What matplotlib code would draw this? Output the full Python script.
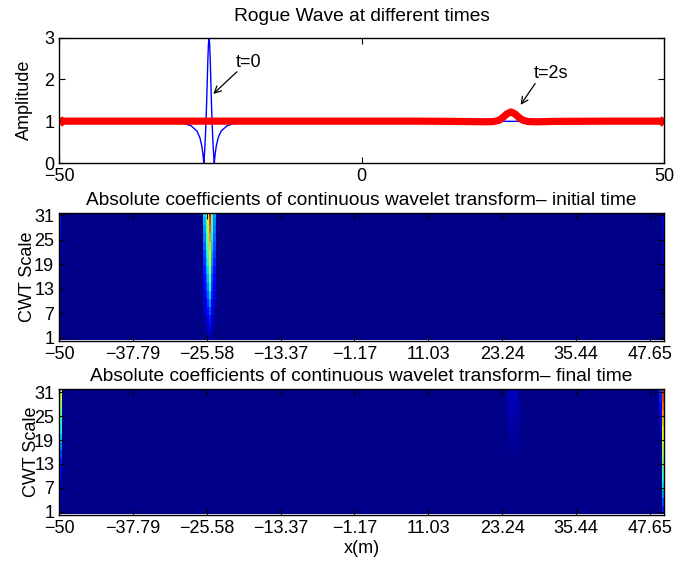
import numpy as np
import matplotlib
matplotlib.use('Agg')
import matplotlib.pyplot as plt

plt.rcParams['font.family'] = ['Liberation Sans', 'DejaVu Sans']
plt.rcParams['font.size'] = 13

# ---- top panel: wave profiles ----
blue_x = [-50, -35.2, -31.2, -29.2, -28.2, -27.2, -26.7, -26.4, -26.2, -26.1,
          -26.07, -26.0, -25.9, -25.8, -25.7, -25.6, -25.5, -25.4, -25.3, -25.2,
          -25.1, -25.0, -24.9, -24.8, -24.7, -24.6, -24.5, -24.4, -24.33, -24.3,
          -24.2, -24.0, -23.7, -23.2, -22.2, -21.2, -19.2, -15.2, 50]
blue_y = [1.0, 0.99, 0.972, 0.938, 0.892, 0.765, 0.6, 0.408, 0.2, 0.057,
          0.0, 0.124, 0.351, 0.639, 1.0, 1.439, 1.94, 2.448, 2.846, 3.0,
          2.846, 2.448, 1.94, 1.439, 1.0, 0.639, 0.351, 0.124, 0.0, 0.057,
          0.2, 0.408, 0.6, 0.765, 0.892, 0.938, 0.972, 0.99, 1.0]

red_x = [-50, -30, -10, 10, 15, 18, 20.5, 21.8, 22.7, 23.4, 24.0, 24.7,
         25.4, 26.0, 26.7, 27.6, 29.0, 32, 40, 50]
red_y = [1.0, 1.0, 1.0, 1.0, 0.995, 0.99, 0.985, 0.99, 1.02, 1.09, 1.17, 1.22,
         1.17, 1.09, 1.02, 0.99, 0.985, 0.995, 1.0, 1.0]

# ---- CWT panels ----
scale_edges = [0.5, 2.5, 4.5, 6.5, 8.5, 10.5, 12.5, 14.5, 16.5,
               18.5, 20.5, 22.5, 24.5, 26.5, 28.5, 30.5, 32.5]
scale_ticks = [1, 7, 13, 19, 25, 31]
x_ticks = [-50, -37.79, -25.58, -13.37, -1.17, 11.03, 23.24, 35.44, 47.65]
x_tick_labels = ['\u221250', '\u221237.79', '\u221225.58', '\u221213.37', '\u22121.17',
                 '11.03', '23.24', '35.44', '47.65']

# initial time: column edges and per-column values (scale 1 -> 32)
cwt0_x_edges = [-50, -49.6, -26.2, -25.75, -25.5, -25.2, -24.85, -24.5, -24.1, 49.6, 50]
cwt0_left = [0.01, 0.01, 0.01, 0.01, 0.01, 0.01, 0.01, 0.01, 0.02, 0.04,
             0.06, 0.08, 0.10, 0.12, 0.15, 0.18]
cwt0_bg = [0.01] * 16
cwt0_s1 = [0.01, 0.02, 0.03, 0.05, 0.07, 0.09, 0.11, 0.13, 0.15, 0.17,
           0.19, 0.22, 0.25, 0.28, 0.31, 0.34]
cwt0_s2 = [0.02, 0.04, 0.07, 0.10, 0.13, 0.16, 0.20, 0.24, 0.28, 0.32,
           0.35, 0.38, 0.41, 0.44, 0.47, 0.50]
cwt0_s3 = [0.03, 0.06, 0.10, 0.14, 0.18, 0.22, 0.26, 0.30, 0.34, 0.38,
           0.42, 0.46, 0.50, 0.54, 0.58, 0.62]
cwt0_s4 = [0.05, 0.10, 0.15, 0.20, 0.27, 0.33, 0.40, 0.47, 0.53, 0.60,
           0.65, 0.70, 0.76, 0.82, 0.86, 0.90]
cwt0_s5 = [0.02, 0.04, 0.06, 0.09, 0.12, 0.15, 0.18, 0.21, 0.24, 0.27,
           0.30, 0.33, 0.36, 0.39, 0.42, 0.45]
cwt0_s6 = [0.01, 0.02, 0.03, 0.04, 0.06, 0.08, 0.10, 0.12, 0.14, 0.16,
           0.18, 0.20, 0.22, 0.24, 0.26, 0.28]
cwt0_right = [0.01, 0.01, 0.01, 0.01, 0.01, 0.01, 0.02, 0.03, 0.04, 0.05,
              0.06, 0.07, 0.08, 0.09, 0.10, 0.11]

# final time
cwt1_x_edges = [-50, -49.5, 24.1, 26.1, 49.1, 49.7, 50]
cwt1_left = [0.02, 0.03, 0.04, 0.05, 0.07, 0.10, 0.15, 0.20, 0.26, 0.32,
             0.37, 0.42, 0.47, 0.52, 0.57, 0.62]
cwt1_bg = [0.01] * 16
cwt1_mid = [0.01, 0.01, 0.01, 0.01, 0.01, 0.01, 0.01, 0.015, 0.02, 0.025,
            0.03, 0.035, 0.04, 0.045, 0.05, 0.05]
cwt1_near_right = [0.01, 0.01, 0.01, 0.01, 0.01, 0.01, 0.01, 0.01, 0.01, 0.02,
                   0.04, 0.06, 0.09, 0.12, 0.15, 0.18]
cwt1_right = [0.15, 0.20, 0.28, 0.35, 0.40, 0.45, 0.50, 0.55, 0.60, 0.62,
              0.65, 0.70, 0.75, 0.80, 0.85, 0.88]

cwt0 = np.array([cwt0_left, cwt0_bg, cwt0_s1, cwt0_s2, cwt0_s3, cwt0_s4,
                 cwt0_s5, cwt0_s6, cwt0_bg, cwt0_right]).T
cwt1 = np.array([cwt1_left, cwt1_bg, cwt1_mid, cwt1_bg, cwt1_near_right,
                 cwt1_right]).T

TITLE_SIZE = 13.8


def style_axes(ax):
    ax.tick_params(direction='in', top=True, right=True, length=4, width=0.8)
    for sp in ax.spines.values():
        sp.set_linewidth(1.0)


fig = plt.figure(figsize=(6.92, 5.62), dpi=100)
W, H = 692.0, 562.0

ax1 = fig.add_axes([59 / W, (H - 163) / H, 605 / W, 125.5 / H])
ax1.plot(blue_x, blue_y, color='blue', lw=1.0)
ax1.plot(red_x, red_y, color='red', lw=5.2, solid_capstyle='butt',
         marker='x', ms=6, mew=2.5, markevery=[0, len(red_x) - 1])
ax1.set_xlim(-50, 50)
ax1.set_ylim(0, 3)
ax1.set_xticks([-50, 0, 50])
ax1.set_xticklabels(['\u221250', '0', '50'])
ax1.set_yticks([0, 1, 2, 3])
ax1.set_ylabel('Amplitude')
ax1.yaxis.set_label_coords(-0.043, 0.5)
ax1.set_title('Rogue Wave at different times', pad=12, fontsize=TITLE_SIZE)
arrow = dict(arrowstyle='->', color='black', lw=0.9, mutation_scale=12,
             shrinkA=0, shrinkB=0)
ax1.annotate('', xy=(-24.5, 1.65), xytext=(-20.6, 2.18), arrowprops=arrow)
ax1.text(-20.8, 2.2, 't=0', ha='left', va='bottom')
ax1.annotate('', xy=(26.3, 1.39), xytext=(28.7, 1.9), arrowprops=arrow)
ax1.text(28.4, 1.93, 't=2s', ha='left', va='bottom')
style_axes(ax1)

ax2 = fig.add_axes([59 / W, (H - 341) / H, 605 / W, 128 / H])
ax2.pcolormesh(cwt0_x_edges, scale_edges, cwt0, cmap='jet', vmin=0, vmax=1,
               shading='flat')
ax2.set_xlim(-50, 50)
ax2.set_ylim(0.2, 31.5)
ax2.set_xticks(x_ticks)
ax2.set_xticklabels(x_tick_labels)
ax2.set_yticks(scale_ticks)
ax2.set_ylabel('CWT Scale')
ax2.yaxis.set_label_coords(-0.038, 0.5)
ax2.set_title('Absolute coefficients of continuous wavelet transform\u2013 initial time',
              pad=6, fontsize=TITLE_SIZE)
style_axes(ax2)

ax3 = fig.add_axes([59 / W, (H - 515) / H, 605 / W, 126 / H])
ax3.pcolormesh(cwt1_x_edges, scale_edges, cwt1, cmap='jet', vmin=0, vmax=1,
               shading='flat')
ax3.set_xlim(-50, 50)
ax3.set_ylim(0.2, 31.8)
ax3.set_xticks(x_ticks)
ax3.set_xticklabels(x_tick_labels)
ax3.set_yticks(scale_ticks)
ax3.set_ylabel('CWT Scale')
ax3.yaxis.set_label_coords(-0.032, 0.5)
ax3.set_xlabel('x(m)', labelpad=2)
ax3.set_title('Absolute coefficients of continuous wavelet transform\u2013 final time',
              pad=6, fontsize=TITLE_SIZE)
style_axes(ax3)

fig.savefig('out.png', dpi=100)
